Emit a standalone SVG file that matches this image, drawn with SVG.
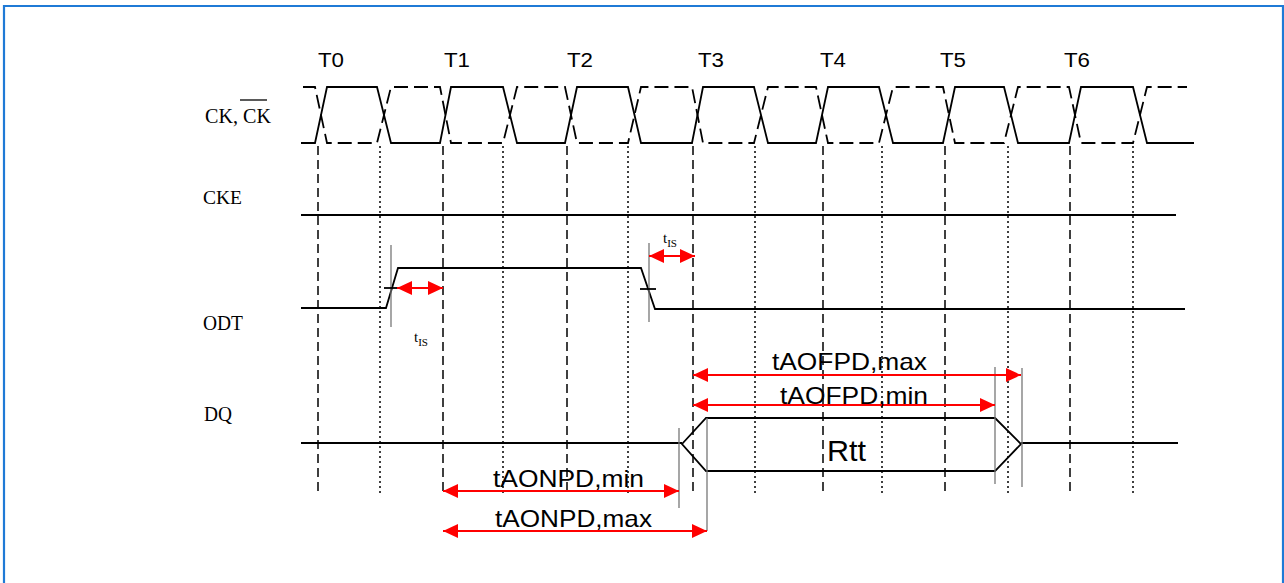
<svg xmlns="http://www.w3.org/2000/svg" width="1284" height="583" viewBox="0 0 1284 583">
<style>
.sig{fill:none;stroke:#000;stroke-width:1.8}
.ckb{fill:none;stroke:#000;stroke-width:1.8;stroke-dasharray:14,6}
.vd{stroke:#000;stroke-width:1.5;stroke-dasharray:9,5}
.vo{stroke:#000;stroke-width:1.5;stroke-dasharray:2,3}
.mk{stroke:#777;stroke-width:1.3}
.arr{stroke:#ff0000;stroke-width:2;marker-start:url(#ah);marker-end:url(#ah)}
.ser{font-family:"Liberation Serif","Times New Roman",serif;fill:#000}
.san{font-family:"Liberation Sans",Arial,sans-serif;fill:#000}
</style>
<defs>
<marker id="ah" viewBox="0 0 15 14" refX="15" refY="7" markerWidth="15" markerHeight="14" markerUnits="userSpaceOnUse" orient="auto-start-reverse">
<path d="M0,0 L15,7 L0,14 z" fill="#ff0000"/>
</marker>
</defs>
<rect width="1284" height="583" fill="#fff"/>
<path d="M4,583 V6 H1283 V583" fill="none" stroke="#1f7ad6" stroke-width="2.2"/>

<g id="time-labels" class="san" font-size="20">
<text x="318" y="67" textLength="26" lengthAdjust="spacingAndGlyphs">T0</text>
<text x="444" y="67" textLength="26" lengthAdjust="spacingAndGlyphs">T1</text>
<text x="567" y="67" textLength="26" lengthAdjust="spacingAndGlyphs">T2</text>
<text x="698" y="67" textLength="26" lengthAdjust="spacingAndGlyphs">T3</text>
<text x="820" y="67" textLength="26" lengthAdjust="spacingAndGlyphs">T4</text>
<text x="940" y="67" textLength="26" lengthAdjust="spacingAndGlyphs">T5</text>
<text x="1064" y="67" textLength="26" lengthAdjust="spacingAndGlyphs">T6</text>
</g>

<g id="gridlines">
<line class="vd" x1="318" y1="146" x2="318" y2="493"/>
<line class="vd" x1="443" y1="146" x2="443" y2="493"/>
<line class="vd" x1="567" y1="146" x2="567" y2="493"/>
<line class="vd" x1="693" y1="146" x2="693" y2="493"/>
<line class="vd" x1="823" y1="146" x2="823" y2="493"/>
<line class="vd" x1="945" y1="146" x2="945" y2="493"/>
<line class="vd" x1="1070" y1="146" x2="1070" y2="493"/>
<line class="vo" x1="380" y1="146" x2="380" y2="493"/>
<line class="vo" x1="503" y1="146" x2="503" y2="493"/>
<line class="vo" x1="628" y1="146" x2="628" y2="493"/>
<line class="vo" x1="755" y1="146" x2="755" y2="493"/>
<line class="vo" x1="882" y1="146" x2="882" y2="493"/>
<line class="vo" x1="1008" y1="146" x2="1008" y2="493"/>
<line class="vo" x1="1133" y1="146" x2="1133" y2="493"/>
</g>

<g id="ck">
<text class="ser" x="205" y="123" font-size="21" textLength="66" lengthAdjust="spacingAndGlyphs">CK, CK</text>
<line x1="240" y1="100" x2="267" y2="100" stroke="#000" stroke-width="1.3"/>
<path class="sig" d="M301,143 H315 L327,87 H377 L391,143 H440 L451,87 H503 L517,143 H565 L577,87 H628 L641,143 H692 L703,87 H754 L768,143 H816 L828,87 H879 L893,143 H943 L955,87 H1004 L1018,143 H1069 L1081,87 H1133 L1147,143 H1194"/>
<path class="ckb" d="M303,87 H315 L327,143 H377 L391,87 H440 L451,143 H503 L517,87 H565 L577,143 H628 L641,87 H692 L703,143 H754 L768,87 H816 L828,143 H879 L893,87 H943 L955,143 H1004 L1018,87 H1069 L1081,143 H1133 L1147,87 H1187"/>
</g>

<g id="cke">
<text class="ser" x="203" y="204" font-size="19" textLength="39" lengthAdjust="spacingAndGlyphs">CKE</text>
<line class="sig" x1="301" y1="215" x2="1176" y2="215"/>
</g>

<g id="odt">
<text class="ser" x="203" y="330" font-size="21" textLength="40" lengthAdjust="spacingAndGlyphs">ODT</text>
<path class="sig" d="M301,308 H386 L398,268 H641 L655,309 H1185"/>
<line class="mk" x1="391" y1="245" x2="391" y2="327"/>
<line class="sig" x1="384" y1="288" x2="397" y2="288"/>
<line class="mk" x1="649" y1="243" x2="649" y2="322"/>
<line class="sig" x1="640" y1="289" x2="656" y2="289"/>
<text class="ser" x="414" y="342" font-size="15">t<tspan font-size="11" dy="4">IS</tspan></text>
<text class="ser" x="663" y="243" font-size="15">t<tspan font-size="11" dy="4">IS</tspan></text>
</g>

<g id="dq">
<text class="ser" x="204" y="421" font-size="21" textLength="28" lengthAdjust="spacingAndGlyphs">DQ</text>
<line class="sig" x1="301" y1="443" x2="682" y2="443"/>
<line class="sig" x1="1021" y1="443" x2="1178" y2="443"/>
<path class="sig" d="M682,444 L706,418 H995 L1021,444 L995,471 H706 Z" fill="#fff"/>
<text class="san" x="827" y="461" font-size="30" textLength="39" lengthAdjust="spacingAndGlyphs">Rtt</text>
<line class="mk" x1="679" y1="428" x2="679" y2="508"/>
<line class="mk" x1="707" y1="418" x2="707" y2="531"/>
<line class="mk" x1="995" y1="367" x2="995" y2="484"/>
<line class="mk" x1="1022" y1="368" x2="1022" y2="487"/>
</g>

<g id="connectors">
<line class="arr" x1="397" y1="288" x2="443" y2="288"/>
<line class="arr" x1="649" y1="256" x2="695" y2="256"/>
<line class="arr" x1="693" y1="375" x2="1021" y2="375"/>
<line class="arr" x1="693" y1="405" x2="995" y2="405"/>
<line class="arr" x1="443" y1="491" x2="679" y2="491"/>
<line class="arr" x1="443" y1="531" x2="707" y2="531"/>
</g>

<g id="timing-labels" class="san" font-size="24">
<text x="772" y="370" textLength="155" lengthAdjust="spacingAndGlyphs">tAOFPD,max</text>
<text x="780" y="404" textLength="148" lengthAdjust="spacingAndGlyphs">tAOFPD,min</text>
<text x="493" y="487" textLength="151" lengthAdjust="spacingAndGlyphs">tAONPD,min</text>
<text x="495" y="527" textLength="157" lengthAdjust="spacingAndGlyphs">tAONPD,max</text>
</g>
</svg>
